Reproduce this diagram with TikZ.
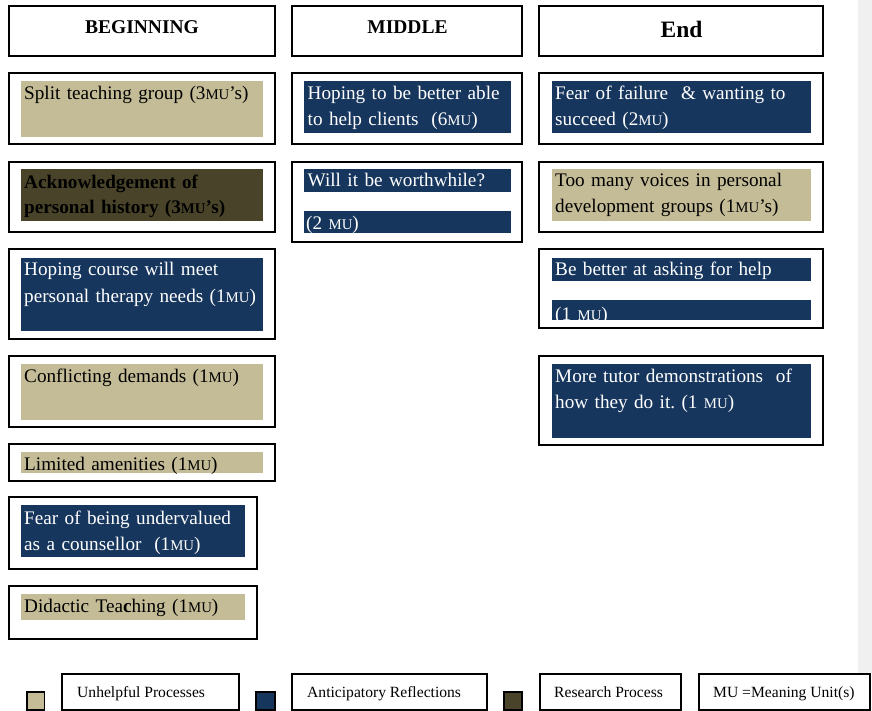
\documentclass[tikz,border=0pt]{standalone}
\usepackage{fontspec}
\setmainfont{Liberation Serif}
\definecolor{unhelpful}{HTML}{C4BC96}
\definecolor{anticip}{HTML}{17365D}
\definecolor{research}{HTML}{494429}
\definecolor{pagegrey}{HTML}{F0F0F0}
\newcommand{\MU}{{\fontsize{14.8}{26}\selectfont MU}}
\frenchspacing

\begin{document}
\begin{tikzpicture}[x=1pt,y=-1pt,
    box/.style={draw=black,line width=1.4pt},
    txt/.style={anchor=base west,inner sep=0pt,text width=300pt,align=left,
                font=\fontsize{19.2}{26}\selectfont},
    wtxt/.style={txt,text=white},
    head/.style={anchor=base,inner sep=0pt,font=\fontsize{19.5}{24}\selectfont\bfseries},
    legtxt/.style={anchor=base west,inner sep=0pt,font=\fontsize{15.6}{18}\selectfont}]
    \fill[white] (0,0) rectangle (872,711);
    \useasboundingbox (0,0) rectangle (872,711);
    \fill[pagegrey] (858,0) rectangle (872,673);
    % headers
    \draw[box] (9,6) rectangle (275,56);
    \draw[box] (292,6) rectangle (522,56);
    \draw[box] (539,6) rectangle (823,56);
    \node[head] (hbeg) at (142,33.5) {BEGINNING};
    \node[head] (hmid) at (407.5,33.5) {MIDDLE};
    \node[head,font=\fontsize{23.5}{26}\selectfont\bfseries] (hend) at (681.5,37.5) {End};
    % beginning column
    \draw[box] (9,73) rectangle (275,144);
    \fill[unhelpful] (21,81) rectangle (263,137);
    \node[txt] (split) at (24,99.5) {Split teaching group (3\MU’s)};
    \draw[box] (9,162) rectangle (275,232);
    \fill[research] (21,169) rectangle (263,221);
    \node[txt,font=\fontsize{19.2}{25}\selectfont\bfseries] (ackn) at (24,188.5)
        {Acknowledgement of\\personal history (3\MU’s)};
    \draw[box] (9,249) rectangle (275,339);
    \fill[anticip] (21,258) rectangle (263,331);
    \node[wtxt] (therapy) at (24,276) {Hoping course will meet\\personal therapy needs (1\MU)};
    \draw[box] (9,356) rectangle (275,427);
    \fill[unhelpful] (21,364) rectangle (263,420);
    \node[txt] (conflict) at (24,382) {Conflicting demands (1\MU)};
    \draw[box] (9,444) rectangle (275,481);
    \fill[unhelpful] (21,452) rectangle (263,473);
    \node[txt] (amenities) at (24,470) {Limited amenities (1\MU)};
    \draw[box] (9,497) rectangle (257,569);
    \fill[anticip] (21,505) rectangle (245,557);
    \node[wtxt] (undervalued) at (24,524) {Fear of being undervalued\\as a counsellor~ (1\MU)};
    \draw[box] (9,586) rectangle (257,639);
    \fill[unhelpful] (21,594) rectangle (245,620);
    \node[txt] (didactic) at (24,612) {Didactic Tea\textbf{c}hing (1\MU)};
    % middle column
    \draw[box] (292,73) rectangle (522,144);
    \fill[anticip] (304,81) rectangle (511,133);
    \node[wtxt] (clients) at (307.5,100) {Hoping to be better able\\to help clients~ (6\MU)};
    \draw[box] (292,162) rectangle (522,242);
    \fill[anticip] (304,169) rectangle (511,192);
    \fill[anticip] (304,211) rectangle (511,233);
    \node[wtxt] (worth) at (307.5,187) {Will it be worthwhile?};
    \begin{scope}
      \clip (304,211) rectangle (511,233);
      \node[wtxt] (worthmu) at (306,230) {(2 \MU)};
    \end{scope}
    % end column
    \draw[box] (539,73) rectangle (823,144);
    \fill[anticip] (552,81) rectangle (811,133);
    \node[wtxt] (failure) at (555,99.5) {Fear of failure~ \& wanting to\\succeed (2\MU)};
    \draw[box] (539,162) rectangle (823,232);
    \fill[unhelpful] (552,169) rectangle (811,221);
    \node[txt] (voices) at (555,187) {Too many voices in personal\\development groups (1\MU’s)};
    \draw[box] (539,249) rectangle (823,328);
    \fill[anticip] (552,258) rectangle (811,281);
    \fill[anticip] (552,300) rectangle (811,320);
    \node[wtxt] (askhelp) at (555,276) {Be better at asking for help};
    \begin{scope}
      \clip (552,300) rectangle (811,320);
      \node[wtxt] (askmu) at (555,320) {(1 \MU)};
    \end{scope}
    \draw[box] (539,356) rectangle (823,445);
    \fill[anticip] (552,364) rectangle (811,438);
    \node[wtxt] (tutor) at (555,382) {More tutor demonstrations~ of\\how they do it. (1 \MU)};
    % legend
    \draw[box,fill=unhelpful] (27,692) rectangle (44.5,710);
    \draw[box] (62,674) rectangle (239,710);
    \node[legtxt] (lunhelp) at (77,697) {Unhelpful Processes};
    \draw[box,fill=anticip] (256,692) rectangle (275,710);
    \draw[box] (292,674) rectangle (487,710);
    \node[legtxt] (lanticip) at (307,697) {Anticipatory Reflections};
    \draw[box,fill=research] (504,692) rectangle (522,710);
    \draw[box] (540,674) rectangle (681,710);
    \node[legtxt] (lresearch) at (554,697) {Research Process};
    \draw[box,fill=white] (699,674) rectangle (870,710);
    \node[legtxt] (lmu) at (713,697) {MU =Meaning Unit(s)};
\end{tikzpicture}
\end{document}
